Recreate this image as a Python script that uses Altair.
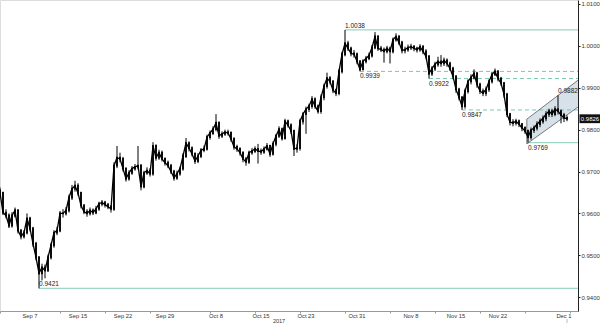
import altair as alt
import pandas as pd

# ---- price data (8-hour bars) ----
first_open = 0.9655
closes = [
    0.9649, 0.9602, 0.9595, 0.9571, 0.9595, 0.9607, 0.9559, 0.9545, 0.9554, 0.9588,
    0.9564, 0.9528, 0.9495, 0.9457, 0.9471, 0.9464, 0.9495, 0.9524, 0.9554, 0.9559,
    0.9600, 0.9600, 0.9607, 0.9638, 0.9659, 0.9666, 0.9649, 0.9619, 0.9604, 0.9600,
    0.9607, 0.9602, 0.9611, 0.9623, 0.9626, 0.9621, 0.9616, 0.9611, 0.9714, 0.9733,
    0.9730, 0.9707, 0.9683, 0.9697, 0.9707, 0.9711, 0.9714, 0.9664, 0.9697, 0.9702,
    0.9695, 0.9761, 0.9733, 0.9745, 0.9730, 0.9721, 0.9714, 0.9700, 0.9685, 0.9695,
    0.9707, 0.9737, 0.9768, 0.9756, 0.9742, 0.9725, 0.9737, 0.9751, 0.9754, 0.9782,
    0.9792, 0.9801, 0.9816, 0.9785, 0.9790, 0.9794, 0.9792, 0.9778, 0.9759, 0.9754,
    0.9745, 0.9730, 0.9723, 0.9745, 0.9749, 0.9754, 0.9749, 0.9747, 0.9754, 0.9761,
    0.9742, 0.9766, 0.9785, 0.9801, 0.9780, 0.9820, 0.9811, 0.9797, 0.9754, 0.9756,
    0.9820, 0.9837, 0.9849, 0.9856, 0.9873, 0.9856, 0.9844, 0.9877, 0.9904, 0.9923,
    0.9915, 0.9894, 0.9887, 0.9939, 0.9980, 1.0006, 0.9994, 0.9982, 0.9980, 0.9963,
    0.9944, 0.9963, 0.9970, 0.9977, 0.9996, 1.0022, 0.9994, 0.9991, 0.9987, 0.9994,
    0.9987, 1.0015, 1.0022, 1.0008, 0.9989, 0.9991, 0.9996, 0.9998, 0.9994, 0.9991,
    0.9998, 0.9987, 0.9975, 0.9934, 0.9946, 0.9956, 0.9963, 0.9958, 0.9965, 0.9958,
    0.9946, 0.9927, 0.9896, 0.9877, 0.9856, 0.9892, 0.9915, 0.9925, 0.9934, 0.9908,
    0.9892, 0.9887, 0.9896, 0.9915, 0.9932, 0.9939, 0.9922, 0.9911, 0.9884, 0.9837,
    0.9818, 0.9816, 0.9820, 0.9813, 0.9804, 0.9797, 0.9782, 0.9799, 0.9804, 0.9813,
    0.9820, 0.9827, 0.9837, 0.9844, 0.9837, 0.9849, 0.9844, 0.9835, 0.9828, 0.9826,
]
highs = [
    0.9662, 0.9652, 0.9610, 0.9600, 0.9603, 0.9614, 0.9610, 0.9563, 0.9560, 0.9600,
    0.9592, 0.9568, 0.9532, 0.9498, 0.9480, 0.9478, 0.9502, 0.9530, 0.9560, 0.9568,
    0.9606, 0.9610, 0.9615, 0.9645, 0.9668, 0.9678, 0.9672, 0.9652, 0.9622, 0.9610,
    0.9614, 0.9612, 0.9618, 0.9628, 0.9632, 0.9630, 0.9625, 0.9620, 0.9722, 0.9761,
    0.9745, 0.9735, 0.9710, 0.9703, 0.9713, 0.9718, 0.9761, 0.9718, 0.9702, 0.9710,
    0.9708, 0.9770, 0.9765, 0.9752, 0.9750, 0.9734, 0.9726, 0.9718, 0.9704, 0.9702,
    0.9712, 0.9744, 0.9780, 0.9772, 0.9760, 0.9746, 0.9744, 0.9756, 0.9762, 0.9788,
    0.9798, 0.9808, 0.9837, 0.9820, 0.9796, 0.9800, 0.9800, 0.9796, 0.9782, 0.9764,
    0.9758, 0.9748, 0.9735, 0.9750, 0.9756, 0.9760, 0.9766, 0.9755, 0.9760, 0.9768,
    0.9764, 0.9772, 0.9790, 0.9808, 0.9805, 0.9826, 0.9824, 0.9815, 0.9800, 0.9765,
    0.9826, 0.9842, 0.9855, 0.9862, 0.9880, 0.9877, 0.9860, 0.9884, 0.9910, 0.9936,
    0.9928, 0.9918, 0.9898, 0.9945, 0.9986, 1.0038, 1.0012, 0.9998, 0.9990, 0.9984,
    0.9966, 0.9968, 0.9976, 0.9984, 1.0002, 1.0033, 1.0026, 1.0000, 0.9996, 1.0000,
    0.9998, 1.0020, 1.0030, 1.0026, 1.0012, 0.9998, 1.0003, 1.0005, 1.0002, 0.9998,
    1.0004, 1.0002, 0.9992, 0.9978, 0.9952, 0.9962, 0.9974, 0.9978, 0.9972, 0.9970,
    0.9962, 0.9950, 0.9930, 0.9900, 0.9880, 0.9898, 0.9920, 0.9932, 0.9944, 0.9938,
    0.9912, 0.9898, 0.9903, 0.9920, 0.9938, 0.9946, 0.9942, 0.9926, 0.9914, 0.9888,
    0.9840, 0.9825, 0.9826, 0.9824, 0.9816, 0.9808, 0.9800, 0.9805, 0.9810, 0.9820,
    0.9827, 0.9834, 0.9844, 0.9850, 0.9850, 0.9856, 0.9882, 0.9848, 0.9840, 0.9834,
]
lows = [
    0.9640, 0.9596, 0.9588, 0.9565, 0.9566, 0.9590, 0.9552, 0.9538, 0.9540, 0.9550,
    0.9557, 0.9520, 0.9488, 0.9421, 0.9440, 0.9445, 0.9460, 0.9490, 0.9518, 0.9548,
    0.9555, 0.9590, 0.9595, 0.9602, 0.9632, 0.9652, 0.9642, 0.9612, 0.9598, 0.9592,
    0.9595, 0.9596, 0.9598, 0.9606, 0.9617, 0.9614, 0.9610, 0.9602, 0.9606, 0.9708,
    0.9722, 0.9700, 0.9676, 0.9678, 0.9692, 0.9702, 0.9705, 0.9655, 0.9660, 0.9692,
    0.9688, 0.9690, 0.9726, 0.9728, 0.9724, 0.9714, 0.9708, 0.9694, 0.9678, 0.9680,
    0.9690, 0.9702, 0.9732, 0.9748, 0.9736, 0.9718, 0.9720, 0.9732, 0.9746, 0.9750,
    0.9776, 0.9787, 0.9796, 0.9778, 0.9780, 0.9785, 0.9786, 0.9771, 0.9752, 0.9747,
    0.9738, 0.9722, 0.9714, 0.9718, 0.9740, 0.9744, 0.9719, 0.9740, 0.9742, 0.9750,
    0.9735, 0.9738, 0.9760, 0.9780, 0.9774, 0.9776, 0.9805, 0.9790, 0.9737, 0.9745,
    0.9750, 0.9812, 0.9790, 0.9842, 0.9850, 0.9850, 0.9838, 0.9838, 0.9870, 0.9898,
    0.9908, 0.9887, 0.9880, 0.9882, 0.9934, 0.9975, 0.9988, 0.9975, 0.9972, 0.9956,
    0.9939, 0.9942, 0.9958, 0.9966, 0.9972, 0.9992, 0.9988, 0.9985, 0.9960, 0.9982,
    0.9958, 0.9982, 1.0010, 1.0002, 0.9982, 0.9982, 0.9986, 0.9990, 0.9987, 0.9984,
    0.9986, 0.9980, 0.9968, 0.9922, 0.9928, 0.9940, 0.9950, 0.9950, 0.9952, 0.9950,
    0.9940, 0.9920, 0.9888, 0.9870, 0.9847, 0.9850, 0.9886, 0.9908, 0.9920, 0.9900,
    0.9885, 0.9880, 0.9880, 0.9890, 0.9910, 0.9928, 0.9915, 0.9905, 0.9876, 0.9830,
    0.9810, 0.9808, 0.9810, 0.9806, 0.9796, 0.9790, 0.9769, 0.9776, 0.9792, 0.9798,
    0.9806, 0.9814, 0.9820, 0.9830, 0.9830, 0.9832, 0.9836, 0.9815, 0.9818, 0.9820,
]

# ---- axis labels ----
tick_pos = [10, 26, 41, 55, 72, 87, 102, 119, 137, 152, 166, 188]
tick_labels = ["Sep 7", "Sep 15", "Sep 22", "Sep 29", "Oct 8", "Oct 15",
               "Oct 23", "Oct 31", "Nov 8", "Nov 15", "Nov 22", "Dec 1"]
year_label = ["2017"]
year_pos = [93]

# ---- support / resistance levels ----
level_values = [1.0038, 0.9939, 0.9922, 0.9847, 0.9769, 0.9421]
level_start = [115, 120, 143, 154, 176, 13]
level_dashed = [False, True, True, True, False, False]
level_above = [True, False, False, False, False, True]

peak_label_value = [0.9882]
peak_label_pos = [186]

# ---- rising channel ----
channel_x = [175.6, 192.67]
channel_upper = [0.9825, 0.9918]
channel_lower = [0.9766, 0.9854]

W, H = 578, 311
X_MAX = W / 3.0
Y_MIN, Y_MAX = 0.93670, 1.01095
FONT = "Liberation Sans"

opens = [first_open] + closes[:-1]
bars = pd.DataFrame({
    "i": list(range(len(closes))),
    "open": opens, "close": closes, "high": highs, "low": lows,
})

xs = alt.Scale(domain=[0, X_MAX], nice=False, zero=False)
ys = alt.Scale(domain=[Y_MIN, Y_MAX], nice=False, zero=False)

x_values = sorted(set(tick_pos + list(range(0, 193, 5))))
y_values = [round(0.94 + k * 0.005, 4) for k in range(15)]

x_axis = alt.Axis(values=x_values, labels=False, title=None, grid=False,
                  tickSize=2, domainColor="#999", tickColor="#999")
y_axis = alt.Axis(orient="right", values=y_values, title=None, grid=False,
                  labelExpr="abs(datum.value*100 - round(datum.value*100)) < 0.01 ? format(datum.value, '.4f') : ''",
                  tickSize=2, labelPadding=1, labelFontSize=6, labelFont=FONT,
                  labelColor="#333", domainColor="#222", tickColor="#222",
                  labelOverlap=False, labelFlush=False)

# channel
ch = pd.DataFrame({"x": channel_x, "up": channel_upper, "lo": channel_lower})
channel_fill = alt.Chart(ch).mark_area(color="#d3dee8", opacity=0.9, clip=True).encode(
    x=alt.X("x:Q", scale=xs, axis=x_axis), y=alt.Y("up:Q", scale=ys, axis=y_axis), y2="lo:Q")
channel_up = alt.Chart(ch).mark_line(color="#5a5a5a", strokeWidth=0.8, clip=True).encode(
    x=alt.X("x:Q", scale=xs), y=alt.Y("up:Q", scale=ys))
channel_lo = alt.Chart(ch).mark_line(color="#5a5a5a", strokeWidth=0.8, clip=True).encode(
    x=alt.X("x:Q", scale=xs), y=alt.Y("lo:Q", scale=ys))
channel_left = alt.Chart(ch.head(1)).mark_rule(color="#5a5a5a", strokeWidth=0.8).encode(
    x=alt.X("x:Q", scale=xs), y=alt.Y("lo:Q", scale=ys), y2="up:Q")

# levels
lv = pd.DataFrame({"v": level_values, "s": level_start, "dashed": level_dashed,
                   "above": level_above, "e": [X_MAX] * len(level_values)})
lv["txt"] = lv["v"].map(lambda v: f"{v:.4f}")
solid = alt.Chart(lv[~lv.dashed]).mark_rule(color="#9fd6c6", strokeWidth=1.2).encode(
    x=alt.X("s:Q", scale=xs), x2="e:Q", y=alt.Y("v:Q", scale=ys))
dashed = alt.Chart(lv[lv.dashed]).mark_rule(color="#7cc6b3", strokeWidth=1, strokeDash=[4, 3]).encode(
    x=alt.X("s:Q", scale=xs), x2="e:Q", y=alt.Y("v:Q", scale=ys))
LBL = dict(fontSize=6.5, font=FONT, color="#222", align="left")
lab_above = alt.Chart(lv[lv.above]).mark_text(baseline="bottom", dy=-1, **LBL).encode(
    x=alt.X("s:Q", scale=xs), y=alt.Y("v:Q", scale=ys), text="txt:N")
lab_below = alt.Chart(lv[~lv.above]).mark_text(baseline="top", dy=2, **LBL).encode(
    x=alt.X("s:Q", scale=xs), y=alt.Y("v:Q", scale=ys), text="txt:N")
pk = pd.DataFrame({"x": peak_label_pos, "v": peak_label_value})
pk["txt"] = pk["v"].map(lambda v: f"{v:.4f}")
lab_peak = alt.Chart(pk).mark_text(baseline="bottom", dy=-1, **LBL).encode(
    x=alt.X("x:Q", scale=xs), y=alt.Y("v:Q", scale=ys), text="txt:N")

# candles
wick = alt.Chart(bars).mark_rule(color="#000", strokeWidth=1, clip=True).encode(
    x=alt.X("i:Q", scale=xs), y=alt.Y("low:Q", scale=ys), y2="high:Q")
body = alt.Chart(bars).mark_rule(color="#000", strokeWidth=1.8, strokeCap="square", clip=True).encode(
    x=alt.X("i:Q", scale=xs), y=alt.Y("open:Q", scale=ys), y2="close:Q")
path = alt.Chart(bars).mark_line(color="#000", strokeWidth=1.3, clip=True).encode(
    x=alt.X("i:Q", scale=xs), y=alt.Y("close:Q", scale=ys))

# x tick labels as text
tl = pd.DataFrame({"x": tick_pos, "t": tick_labels})
xlabels = alt.Chart(tl).mark_text(fontSize=5.8, font=FONT, color="#333", baseline="middle").encode(
    x=alt.X("x:Q", scale=xs), y=alt.value(H + 4.5), text="t:N")

# last price badge
last = pd.DataFrame({"v": [closes[-1]], "txt": [f"{closes[-1]:.4f}"], "i": [len(closes) - 1]})
badge = alt.Chart(last).mark_point(shape="M-1,-0.42L1,-0.42L1,0.42L-1,0.42Z", filled=True,
                                   size=441, color="#111", opacity=1).encode(
    x=alt.value(590), y=alt.Y("v:Q", scale=ys))
badge_txt = alt.Chart(last).mark_text(color="white", fontSize=6, font=FONT, align="center",
                                      baseline="middle").encode(
    x=alt.value(590), y=alt.Y("v:Q", scale=ys), text="txt:N")
marker = alt.Chart(last).mark_rule(color="#bbb", strokeWidth=1).encode(
    x=alt.X("i:Q", scale=xs), y=alt.value(H + 8), y2=alt.value(H + 12))

# year
yr = pd.DataFrame({"x": year_pos, "t": year_label})
year = alt.Chart(yr).mark_text(fontSize=5.5, font=FONT, color="#333", baseline="middle").encode(
    x=alt.X("x:Q", scale=xs), y=alt.value(H + 9.5), text="t:N")

chart = alt.layer(
    channel_fill, solid, dashed, channel_up, channel_lo, channel_left,
    wick, body, path, lab_above, lab_below, lab_peak, xlabels, badge, badge_txt, marker, year
).properties(
    width=W, height=H,
    autosize=alt.AutoSizeParams(type="none"),
    padding={"left": 0, "top": 0, "right": 22, "bottom": 12},
).configure_view(stroke=None).configure(background="white")

chart.save("out.html", embed_options={"renderer": "svg", "actions": False})
